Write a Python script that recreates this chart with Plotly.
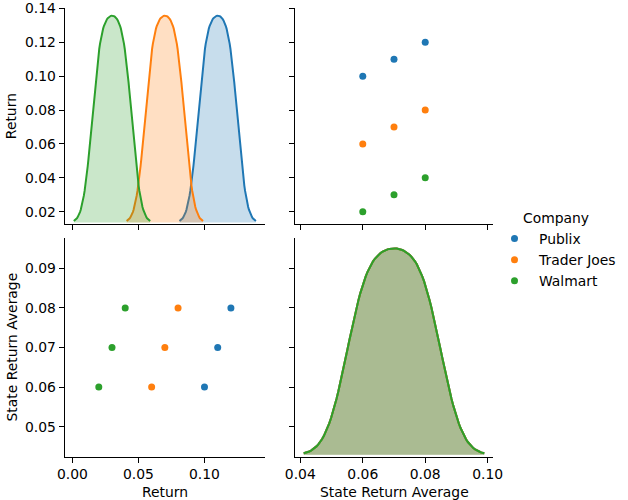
import numpy as np
import plotly.graph_objects as go

# ---------------- data ----------------
companies = ["Publix", "Trader Joes", "Walmart"]
publix_return = [0.10, 0.11, 0.12]
traderjoes_return = [0.06, 0.07, 0.08]
walmart_return = [0.02, 0.03, 0.04]
state_return_average = [0.06, 0.07, 0.08]

return_ticks = [0.02, 0.04, 0.06, 0.08, 0.10, 0.12, 0.14]
return_xticks = [0.00, 0.05, 0.10]
sra_yticks = [0.05, 0.06, 0.07, 0.08, 0.09]
sra_xticks = [0.04, 0.06, 0.08, 0.10]

colors = ["#1f77b4", "#ff7f0e", "#2ca02c"]
fills = ["rgba(31,119,180,0.25)", "rgba(255,127,14,0.25)", "rgba(44,160,44,0.25)"]

returns = [publix_return, traderjoes_return, walmart_return]


def kde(vals, gridsize=100, cut=3):
    x = np.asarray(vals, dtype=float)
    n = len(x)
    sd = np.std(x, ddof=1)
    iqr = (np.percentile(x, 75) - np.percentile(x, 25)) / 1.349
    a = min(sd, iqr) if iqr > 0 else sd
    bw = 1.059 * a * n ** (-0.2)
    grid = np.linspace(x.min() - cut * bw, x.max() + cut * bw, gridsize)
    dens = np.exp(-0.5 * ((grid[:, None] - x[None, :]) / bw) ** 2).sum(1) / (n * bw * np.sqrt(2 * np.pi))
    return grid, dens


W, H = 628, 500
FONT = dict(family="DejaVu Sans", size=13.9, color="black")


def px_x(p):
    return p / W


def px_y(p):
    return 1 - p / H


cx0 = [px_x(64.7), px_x(265.0)]
cx1 = [px_x(295.0), px_x(493.0)]
ry0 = [px_y(224.3), px_y(8.0)]
ry1 = [px_y(456.7), px_y(238.3)]

fig = go.Figure()

# empty placeholder traces so the tick-bearing diagonal subplots exist
fig.add_trace(go.Scatter(x=[None], y=[None], xaxis="x", yaxis="y", mode="markers",
                         showlegend=False, hoverinfo="skip"))
fig.add_trace(go.Scatter(x=[None], y=[None], xaxis="x4", yaxis="y4", mode="markers",
                         showlegend=False, hoverinfo="skip"))

# diagonal top-left: KDE of Return
Mtl = 0
for name, vals, c, f in zip(companies, returns, colors, fills):
    g, d = kde(vals)
    Mtl = max(Mtl, d.max())
    fig.add_trace(go.Scatter(x=g, y=d, xaxis="x", yaxis="y5", mode="lines",
                             line=dict(color=c, width=2), fill="tozeroy", fillcolor=f,
                             showlegend=False, hoverinfo="skip"))

# top-right: x = state avg, y = return
for name, vals, c in zip(companies, returns, colors):
    fig.add_trace(go.Scatter(x=state_return_average, y=vals, xaxis="x2", yaxis="y2", mode="markers",
                             marker=dict(color=c, size=7, line=dict(width=0)),
                             name=name, showlegend=True))

# bottom-left: x = return, y = state avg
for name, vals, c in zip(companies, returns, colors):
    fig.add_trace(go.Scatter(x=vals, y=state_return_average, xaxis="x3", yaxis="y3", mode="markers",
                             marker=dict(color=c, size=7, line=dict(width=0)),
                             name=name, showlegend=False))

# diagonal bottom-right: KDE of state avg per company
Mbr = 0
for name, c, f in zip(companies, colors, fills):
    g, d = kde(state_return_average)
    Mbr = max(Mbr, d.max())
    fig.add_trace(go.Scatter(x=g, y=d, xaxis="x4", yaxis="y6", mode="lines",
                             line=dict(color=c, width=2), fill="tozeroy", fillcolor=f,
                             showlegend=False, hoverinfo="skip"))

axis_common = dict(showline=True, linecolor="black", linewidth=1.1, ticks="outside",
                   ticklen=5, tickwidth=1.1, tickcolor="black", showgrid=False,
                   zeroline=False, tickfont=FONT, tickformat=".2f")

fig.update_layout(
    width=W, height=H,
    margin=dict(l=0, r=0, t=0, b=0, autoexpand=False),
    paper_bgcolor="white", plot_bgcolor="rgba(0,0,0,0)",
    font=FONT,
    xaxis=dict(domain=cx0, anchor="y", range=[-0.0058, 0.1458], tickvals=return_xticks,
               showticklabels=False, **axis_common),
    yaxis=dict(domain=ry0, anchor="x", range=[0.01256, 0.1403], tickvals=return_ticks, **axis_common),
    xaxis2=dict(domain=cx1, anchor="y2", range=[0.0383, 0.1017], tickvals=sra_xticks,
                showticklabels=False, **axis_common),
    yaxis2=dict(domain=ry0, anchor="x2", range=[0.01256, 0.1403], tickvals=return_ticks,
                showticklabels=False, **axis_common),
    xaxis3=dict(domain=cx0, anchor="y3", range=[-0.0058, 0.1458], tickvals=return_xticks, **axis_common),
    yaxis3=dict(domain=ry1, anchor="x3", range=[0.0424, 0.0976], tickvals=sra_yticks, **axis_common),
    xaxis4=dict(domain=cx1, anchor="y4", range=[0.0383, 0.1017], tickvals=sra_xticks, **axis_common),
    yaxis4=dict(domain=ry1, anchor="x4", range=[0.0424, 0.0976], tickvals=sra_yticks,
                showticklabels=False, **axis_common),
    yaxis5=dict(domain=ry0, anchor="x", visible=False, range=[-0.009 * Mtl, 1.037 * Mtl]),
    yaxis6=dict(domain=ry1, anchor="x4", visible=False, range=[-0.0094 * Mbr, 1.049 * Mbr]),
    legend=dict(x=px_x(490), y=px_y(205), xanchor="left", yanchor="top",
                font=FONT, itemwidth=39, tracegroupgap=0, bgcolor="rgba(0,0,0,0)",
                title=dict(text="Company", font=FONT, side="top center")),
    showlegend=True,
)

annotations = [
    dict(text="Return", x=(cx0[0] + cx0[1]) / 2, y=px_y(491.5), xref="paper", yref="paper",
         showarrow=False, xanchor="center", yanchor="middle", font=FONT),
    dict(text="State Return Average", x=(cx1[0] + cx1[1]) / 2, y=px_y(491.5), xref="paper", yref="paper",
         showarrow=False, xanchor="center", yanchor="middle", font=FONT),
    dict(text="Return", x=px_x(11), y=(ry0[0] + ry0[1]) / 2, xref="paper", yref="paper",
         showarrow=False, xanchor="center", yanchor="middle", textangle=-90, font=FONT),
    dict(text="State Return Average", x=px_x(11), y=(ry1[0] + ry1[1]) / 2, xref="paper", yref="paper",
         showarrow=False, xanchor="center", yanchor="middle", textangle=-90, font=FONT),
]
fig.update_layout(annotations=annotations)

fig.write_html("out.html", config={"displayModeBar": False},
               post_script="document.body.style.margin='0';document.body.style.overflow='hidden';")
